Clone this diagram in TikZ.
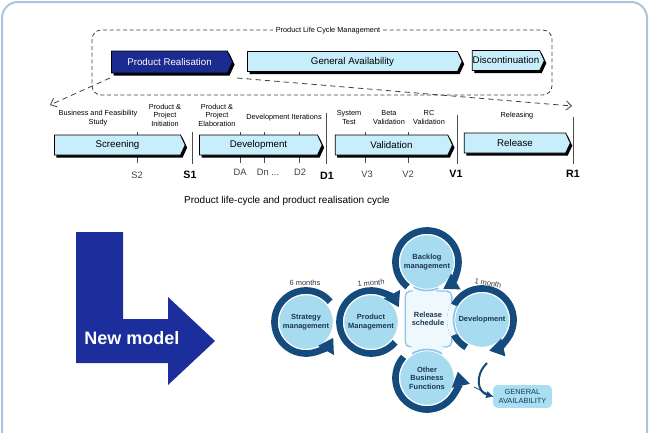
\documentclass[tikz,border=0pt]{standalone}
\usepackage{fontspec}
\setmainfont{Liberation Sans}
\usetikzlibrary{arrows.meta, positioning, calc, shapes.symbols, shadows}

\definecolor{frameblue}{HTML}{A9C6DE}
\definecolor{darkphase}{HTML}{1C2B8F}
\definecolor{lightphase}{HTML}{C8EDFB}
\definecolor{bigarrow}{HTML}{1C2D9C}
\definecolor{cycfill}{HTML}{A6DBF0}
\definecolor{cycring}{HTML}{154A7C}
\definecolor{cyctext}{HTML}{1B3557}
\definecolor{schedfill}{HTML}{EEF8FD}
\definecolor{schedline}{HTML}{8DC5E6}
\definecolor{gafill}{HTML}{A9DFF3}

\begin{document}
\begin{tikzpicture}[
    x=0.75pt, y=0.75pt,
    % phase bars of the life cycle
    phase/.style={signal, signal to=east, signal pointer angle=130, draw=black, line width=0.6pt,
        inner sep=0pt, minimum height=15pt, font=\fontsize{7.3}{8}\selectfont,
        drop shadow={shadow xshift=1.5pt, shadow yshift=-2pt, fill=black, opacity=1}},
    phase_dark/.style={phase, fill=darkphase, text=white},
    phase_light/.style={phase, fill=lightphase},
    lbl/.style={font=\fontsize{5.5}{6.3}\selectfont, align=center, inner sep=1pt},
    tick_lbl/.style={font=\fontsize{7}{8}\selectfont, text=black!75},
    gate_lbl/.style={font=\fontsize{8}{9}\selectfont\bfseries},
    gate/.style={draw=black!70, line width=0.6pt},
    tick/.style={draw=black!70, line width=0.5pt},
    % the new model cycle
    cyc/.style={circle, fill=cycfill, draw=white, line width=0.75pt, minimum size=41pt, inner sep=0pt,
        align=center, text=cyctext, font=\fontsize{5.6}{6.4}\selectfont\bfseries},
    ring/.style={draw=cycring, line width=5pt},
    ring_arrow/.style={ring, -{Triangle[length=11pt, width=13pt]}},
    month_lbl/.style={font=\fontsize{5.6}{6}\selectfont, text=black!80}
]
    \useasboundingbox (0,0) rectangle (649,-432);
    \draw[frameblue, line width=1.5pt, rounded corners=12pt] (2,-2) rectangle (647,-460);

    % --- Product life cycle ---
    \draw[black!75, dashed, dash pattern=on 3pt off 2pt, rounded corners=7pt, line width=0.6pt] (92,-30) rectangle (552,-95);
    \node[lbl, fill=white, inner sep=2pt] (plcm) at (328,-31) {Product Life Cycle Management};

    \node[phase_dark, minimum width=90.75pt, minimum height=16.5pt] (prod_real) at (169.5,-62) {Product Realisation};
    \node[phase_light, minimum width=161pt] (gen_avail) at (352.5,-61.5) {General Availability};
    \node[phase_light, minimum width=54pt] (discont) at (506,-60.5) {Discontinuation};

    % zoom into the realisation cycle
    \coordinate (split_l) at (110,-78);
    \coordinate (split_r) at (237,-78);
    \coordinate (cyc_start) at (50,-105);
    \coordinate (cyc_end) at (572,-106);
    \draw[black!75, dashed, dash pattern=on 4pt off 3pt, line width=0.6pt, -{Straight Barb[length=4pt, width=7pt]}] (split_l) -- (cyc_start);
    \draw[black!75, dashed, dash pattern=on 4pt off 3pt, line width=0.6pt, -{Straight Barb[length=4pt, width=7pt]}] (split_r) -- (cyc_end);

    % --- Milestones and gates ---
    \foreach \x in {137, 240, 264, 299, 365, 408}
        \draw[tick] (\x,-132) -- (\x,-163);
    \foreach \x/\top in {192/132, 326/113, 457/115, 573/117}
        \draw[gate] (\x,-\top) -- (\x,-164);

    \node[phase_light, minimum width=98pt] (screening) at (117.5,-145) {Screening};
    \node[phase_light, minimum width=92pt] (development) at (258.5,-145) {Development};
    \node[phase_light, minimum width=88pt] (validation) at (391.5,-145) {Validation};
    \node[phase_light, minimum width=79.5pt] (release) at (515,-143) {Release};

    \node[lbl] (bfs) at (98,-118) {Business and Feasibility\\Study};
    \node[lbl] (ppi) at (165,-115) {Product \&\\Project\\Initiation};
    \node[lbl] (ppe) at (217,-115) {Product \&\\Project\\Elaboration};
    \node[lbl] (dit) at (284,-118) {Development Iterations};
    \node[lbl] (syst) at (349,-117.5) {System\\Test};
    \node[lbl] (beta) at (389,-117.5) {Beta\\Validation};
    \node[lbl] (rcv) at (429,-117.5) {RC\\Validation};
    \node[lbl] (rel_lbl) at (517,-116) {Releasing};

    \node[tick_lbl] (s2) at (137,-175) {S2};
    \node[tick_lbl] (da) at (240,-172) {DA};
    \node[tick_lbl] (dn) at (268,-172) {Dn ...};
    \node[tick_lbl] (d2) at (300,-172) {D2};
    \node[tick_lbl] (v3) at (367,-174) {V3};
    \node[tick_lbl] (v2) at (408,-174) {V2};
    \node[gate_lbl] (s1) at (190,-175) {S1};
    \node[gate_lbl] (d1) at (327,-176) {D1};
    \node[gate_lbl] (v1) at (456,-174) {V1};
    \node[gate_lbl] (r1) at (573,-174) {R1};

    \node[font=\fontsize{7.5}{9}\selectfont] (caption) at (287,-201) {Product life-cycle and product realisation cycle};

    % --- New model arrow ---
    \fill[bigarrow] (76,-232) -- (123,-232) -- (123,-319) -- (168,-319) -- (168,-297) -- (215,-341)
        -- (168,-385) -- (168,-363) -- (76,-363) -- cycle;
    \node[font=\fontsize{13.5}{15}\selectfont\bfseries, text=white] (new_model) at (132,-338) {New model};

    % --- New model cycle ---
    \node[draw=schedline, fill=schedfill, rounded corners=4pt, minimum width=35pt, minimum height=42pt, line width=1pt] (rel_box) at (428.5,-319) {};

    \node[cyc] (strat) at (306,-322) {Strategy\\management};
    \node[cyc] (prod_mgmt) at (371,-322) {Product\\Management};
    \node[cyc] (backlog) at (427,-262) {Backlog\\management};
    \node[cyc] (dev) at (482,-320) {Development};
    \node[cyc] (other) at (427,-378) {Other\\Business\\Functions};

    \draw[ring_arrow] (strat.center) ++(40:31.5) arc[start angle=40, end angle=330, radius=31.5];
    \draw[ring_arrow] (prod_mgmt.center) ++(-40:31.5) arc[start angle=-40, end angle=-332, radius=31.5];
    \draw[ring_arrow] (backlog.center) ++(-128:31.5) arc[start angle=-128, end angle=-419, radius=31.5];
    \draw[ring_arrow] (dev.center) ++(-120:31.5) arc[start angle=-120, end angle=-437, radius=31.5];
    \draw[ring_arrow] (other.center) ++(138:31.5) arc[start angle=138, end angle=372, radius=31.5];

    % schedule box laid over the rings
    \draw[schedfill, line width=5.2pt] (backlog.center) ++(-116:31.5) arc[start angle=-116, end angle=-72, radius=31.5];
    \draw[schedfill, line width=5.2pt] (dev.center) ++(152:31.5) arc[start angle=152, end angle=208, radius=31.5];
    \draw[schedfill, line width=5.2pt] (other.center) ++(60:31.5) arc[start angle=60, end angle=120, radius=31.5];
    \draw[schedline, line width=1.2pt] (backlog.center) ++(-118:28.5) arc[start angle=-118, end angle=-66, radius=28.5];
    \draw[schedline, line width=1.2pt] (dev.center) ++(150:28.5) arc[start angle=150, end angle=210, radius=28.5];
    \draw[schedline, line width=1.2pt] (other.center) ++(58:28.5) arc[start angle=58, end angle=122, radius=28.5];

    \node[align=center, text=cyctext, font=\fontsize{5.6}{6.4}\selectfont\bfseries] (rel_sched) at (428,-319) {Release\\schedule};

    \node[month_lbl] (m_strat) at (305,-283) {6 months};
    \node[month_lbl, rotate=5] (m_prod) at (371,-283) {1 month};
    \node[month_lbl, rotate=-10] (m_dev) at (488,-283) {1 month};

    \node[fill=gafill, rounded corners=3pt, minimum width=44pt, minimum height=17pt, inner sep=0pt, align=center,
        text=cyctext, font=\fontsize{5.6}{6.4}\selectfont] (ga) at (522.5,-396.5) {GENERAL\\AVAILABILITY};

    \coordinate (ga_from) at (487,-363);
    \coordinate (ga_tail) at (474,-387);
    \draw[cycring, line width=1.5pt, -{Triangle[length=5pt, width=5pt]}] (ga_from) .. controls (474,-376) and (478,-392) .. (ga.west);
    \draw[cycring, line width=0.6pt] (ga_tail) -- (ga.west);

\end{tikzpicture}
\end{document}
